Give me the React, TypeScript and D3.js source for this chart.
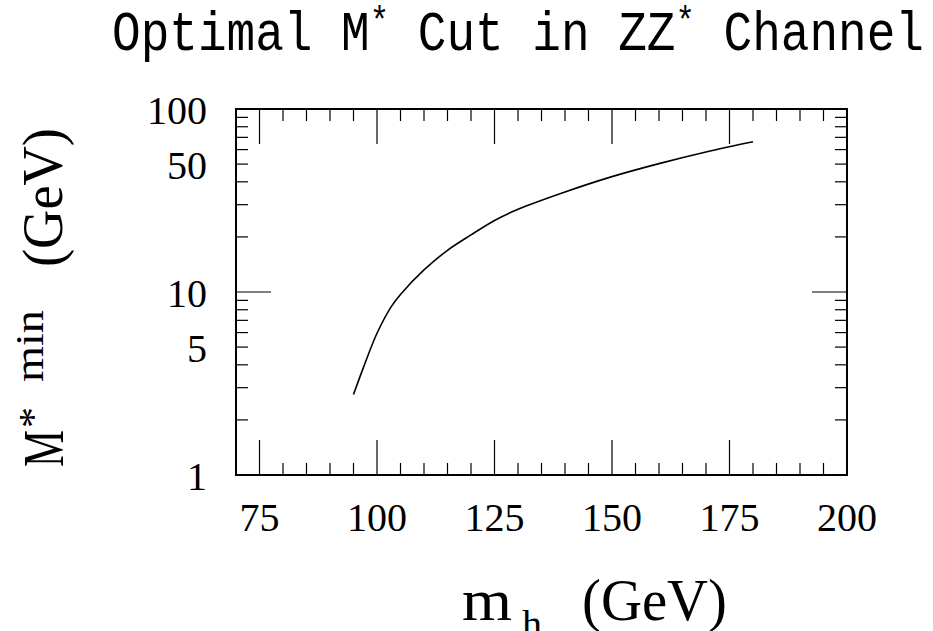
import React from "react";
import * as d3 from "d3";

const MH = [95, 97, 100, 103, 105, 110, 115, 120, 125, 130, 140, 150, 160, 170, 180];
const MSTAR_MIN = [2.75, 3.8, 5.95, 8.3, 9.7, 13.2, 16.9, 20.5, 24.6, 28.3, 35.2, 42.7, 50.3, 58.2, 66.2];
const X_MAJOR = [75, 100, 125, 150, 175, 200];
const X_MINOR = d3.range(70, 201, 5).filter((v) => v % 25 !== 0 && v !== 70 && v !== 200);
const Y_LABELS = [1, 5, 10, 50, 100];
const Y_MAJOR = [10];
const Y_MINOR = [2, 3, 4, 5, 6, 7, 8, 9, 20, 30, 40, 50, 60, 70, 80, 90];

const W = 933;
const H = 631;
const L = 236, R = 847, T = 109, B = 475;

export default function App() {
  const x = d3.scaleLinear().domain([70, 200]).range([L, R]);
  const y = d3.scaleLog().domain([1, 100]).range([B, T]);
  const line = d3
    .line<number>()
    .x((_, i) => x(MH[i]))
    .y((d) => y(d))
    .curve(d3.curveCatmullRom.alpha(0.5));
  const serif = "'Liberation Serif', 'Times New Roman', serif";
  const mono = "'Liberation Mono', 'Courier New', monospace";
  const majL = 35, minL = 12;

  return (
    <svg width={W} height={H} style={{ position: "absolute", left: 0, top: 0, background: "#fff" }}>
      <rect x={0} y={0} width={W} height={H} fill="#fff" />
      {/* title */}
      <text x={112} y={50} fontFamily={mono} fontSize={56} fill="#000" textLength={812} lengthAdjust="spacingAndGlyphs">
        Optimal M<tspan dy={-17} fontSize={38}>*</tspan>
        <tspan dy={17}> Cut in ZZ</tspan>
        <tspan dy={-17} fontSize={38}>*</tspan>
        <tspan dy={17}> Channel</tspan>
      </text>

      {/* frame */}
      <rect x={L} y={T} width={R - L} height={B - T} fill="none" stroke="#000" strokeWidth={2} />

      {/* x ticks */}
      {X_MAJOR.filter((v) => v < 200).map((v) => (
        <g key={"xM" + v} stroke="#000" strokeWidth={1.2}>
          <line x1={x(v)} x2={x(v)} y1={B} y2={B - majL} />
          <line x1={x(v)} x2={x(v)} y1={T} y2={T + majL} />
        </g>
      ))}
      {X_MINOR.map((v) => (
        <g key={"xm" + v} stroke="#000" strokeWidth={1.2}>
          <line x1={x(v)} x2={x(v)} y1={B} y2={B - minL} />
          <line x1={x(v)} x2={x(v)} y1={T} y2={T + minL} />
        </g>
      ))}
      {/* y ticks */}
      {Y_MAJOR.map((v) => (
        <g key={"yM" + v} stroke="#000" strokeWidth={1.2}>
          <line x1={L} x2={L + majL} y1={y(v)} y2={y(v)} />
          <line x1={R} x2={R - majL} y1={y(v)} y2={y(v)} />
        </g>
      ))}
      {Y_MINOR.map((v) => (
        <g key={"ym" + v} stroke="#000" strokeWidth={1.2}>
          <line x1={L} x2={L + minL} y1={y(v)} y2={y(v)} />
          <line x1={R} x2={R - minL} y1={y(v)} y2={y(v)} />
        </g>
      ))}

      {/* tick labels */}
      {X_MAJOR.map((v) => (
        <text key={"xl" + v} x={x(v)} y={531} textAnchor="middle" fontFamily={serif} fontSize={40} fill="#000">
          {v}
        </text>
      ))}
      {Y_LABELS.map((v) => (
        <text key={"yl" + v} x={207} y={y(v) + 15} textAnchor="end" fontFamily={serif} fontSize={40} fill="#000">
          {v}
        </text>
      ))}

      {/* curve */}
      <path d={line(MSTAR_MIN) || ""} fill="none" stroke="#000" strokeWidth={1.6} />

      {/* x axis title */}
      <text x={462} y={620} fontFamily={serif} fontSize={60} fill="#000" textLength={50} lengthAdjust="spacingAndGlyphs">m</text>
      <text x={522} y={638} fontFamily={serif} fontSize={40} fill="#000">h</text>
      <text x={582} y={620} fontFamily={serif} fontSize={60} fill="#000" textLength={145} lengthAdjust="spacingAndGlyphs">(GeV)</text>

      {/* y axis title */}
      <g transform="rotate(-90)">
        <text x={-467} y={63} fontFamily={serif} fontSize={58} fill="#000" textLength={37} lengthAdjust="spacingAndGlyphs">M</text>
        <text x={-428} y={46} fontFamily={serif} fontSize={40} fill="#000" textLength={21} lengthAdjust="spacingAndGlyphs">*</text>
        <text x={-382} y={43} fontFamily={serif} fontSize={40} fill="#000" textLength={72} lengthAdjust="spacingAndGlyphs">min</text>
        <text x={-267} y={62} fontFamily={serif} fontSize={58} fill="#000" textLength={139} lengthAdjust="spacingAndGlyphs">(GeV)</text>
      </g>
    </svg>
  );
}
